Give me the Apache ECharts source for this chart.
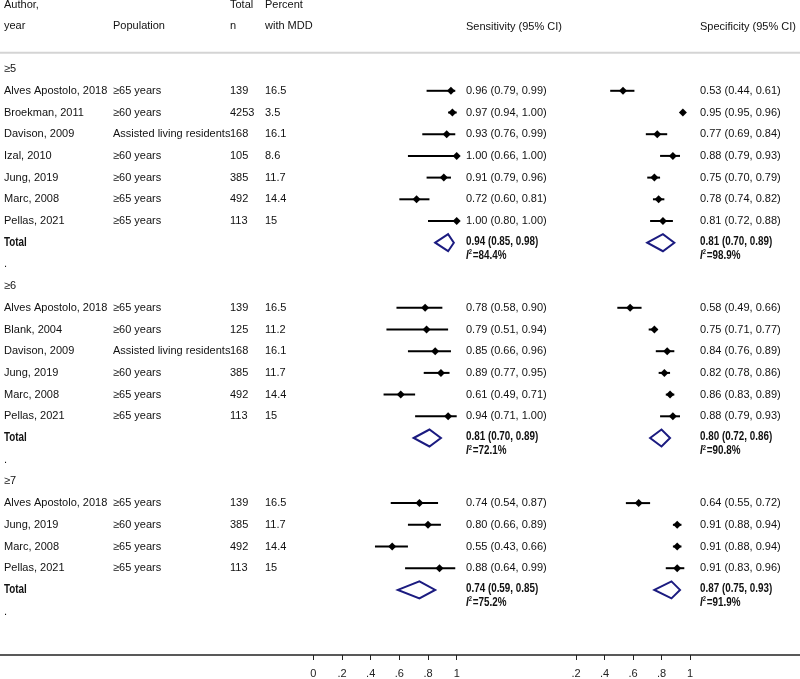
<!DOCTYPE html>
<html>
<head>
<meta charset="utf-8">
<script src="https://cdn.jsdelivr.net/npm/echarts@6/dist/echarts.min.js"></script>
<style>html,body{margin:0;padding:0;background:#fff}#c{width:800px;height:679px}</style>
</head>
<body>
<div id="c"></div>
<script>
// ---------- DATA ----------
const groupLabels = ['≥5', '≥6', '≥7'];
const studyGroup = [0,0,0,0,0,0,0, 1,1,1,1,1,1, 2,2,2,2];
const studyAuthor = [
  'Alves Apostolo, 2018','Broekman, 2011','Davison, 2009','Izal, 2010','Jung, 2019','Marc, 2008','Pellas, 2021',
  'Alves Apostolo, 2018','Blank, 2004','Davison, 2009','Jung, 2019','Marc, 2008','Pellas, 2021',
  'Alves Apostolo, 2018','Jung, 2019','Marc, 2008','Pellas, 2021'];
const studyPopulation = [
  '≥65 years','≥60 years','Assisted living residents','≥60 years','≥60 years','≥65 years','≥65 years',
  '≥65 years','≥60 years','Assisted living residents','≥60 years','≥65 years','≥65 years',
  '≥65 years','≥60 years','≥65 years','≥65 years'];
const studyTotalN = [139,4253,168,105,385,492,113, 139,125,168,385,492,113, 139,385,492,113];
const studyPctMDD = ['16.5','3.5','16.1','8.6','11.7','14.4','15', '16.5','11.2','16.1','11.7','14.4','15', '16.5','11.7','14.4','15'];
const sensEst  = [0.96,0.97,0.93,1.00,0.91,0.72,1.00, 0.78,0.79,0.85,0.89,0.61,0.94, 0.74,0.80,0.55,0.88];
const sensLow  = [0.79,0.94,0.76,0.66,0.79,0.60,0.80, 0.58,0.51,0.66,0.77,0.49,0.71, 0.54,0.66,0.43,0.64];
const sensHigh = [0.99,1.00,0.99,1.00,0.96,0.81,1.00, 0.90,0.94,0.96,0.95,0.71,1.00, 0.87,0.89,0.66,0.99];
const specEst  = [0.53,0.95,0.77,0.88,0.75,0.78,0.81, 0.58,0.75,0.84,0.82,0.86,0.88, 0.64,0.91,0.91,0.91];
const specLow  = [0.44,0.95,0.69,0.79,0.70,0.74,0.72, 0.49,0.71,0.76,0.78,0.83,0.79, 0.55,0.88,0.88,0.83];
const specHigh = [0.61,0.96,0.84,0.93,0.79,0.82,0.88, 0.66,0.77,0.89,0.86,0.89,0.93, 0.72,0.94,0.94,0.96];
const totalSensEst  = [0.94,0.81,0.74];
const totalSensLow  = [0.85,0.70,0.59];
const totalSensHigh = [0.98,0.89,0.85];
const totalSensI2   = ['84.4','72.1','75.2'];
const totalSpecEst  = [0.81,0.80,0.87];
const totalSpecLow  = [0.70,0.72,0.75];
const totalSpecHigh = [0.89,0.86,0.93];
const totalSpecI2   = ['98.9','90.8','91.9'];
const sensTickLabels = ['0','.2','.4','.6','.8','1'];
const specTickLabels = ['.2','.4','.6','.8','1'];

// ---------- LAYOUT (pixel columns of the table) ----------
const COL = {author: 4, pop: 113, n: 230, pct: 265, sensText: 466, specText: 700};
const FONT = '"Liberation Sans", Arial, sans-serif';
const NARROW = 0.82;

const f2 = v => v.toFixed(2);
const ci = (e, l, h) => f2(e) + ' (' + f2(l) + ', ' + f2(h) + ')';

// build rows
const texts = [];
const sensRows = [], specRows = [], sensTot = [], specTot = [];
texts.push({x: COL.author, row: -2.95, text: 'Author,'});
texts.push({x: COL.n, row: -2.95, text: 'Total'});
texts.push({x: COL.pct, row: -2.95, text: 'Percent'});
texts.push({x: COL.author, row: -1.98, text: 'year'});
texts.push({x: COL.pop, row: -1.98, text: 'Population'});
texts.push({x: COL.n, row: -1.98, text: 'n'});
texts.push({x: COL.pct, row: -1.98, text: 'with MDD'});
texts.push({x: COL.sensText, row: -1.96, text: 'Sensitivity (95% CI)'});
texts.push({x: COL.specText, row: -1.96, text: 'Specificity (95% CI)'});

let r = 0;
groupLabels.forEach((g, gi) => {
  texts.push({x: COL.author, row: r, text: g});
  r++;
  studyGroup.forEach((sg, i) => {
    if (sg !== gi) return;
    texts.push({x: COL.author, row: r, text: studyAuthor[i]});
    texts.push({x: COL.pop, row: r, text: studyPopulation[i]});
    texts.push({x: COL.n, row: r, text: String(studyTotalN[i])});
    texts.push({x: COL.pct, row: r, text: studyPctMDD[i]});
    texts.push({x: COL.sensText, row: r, text: ci(sensEst[i], sensLow[i], sensHigh[i])});
    texts.push({x: COL.specText, row: r, text: ci(specEst[i], specLow[i], specHigh[i])});
    sensRows.push([sensEst[i], sensLow[i], sensHigh[i], r]);
    specRows.push([specEst[i], specLow[i], specHigh[i], r]);
    r++;
  });
  texts.push({x: COL.author, row: r, text: 'Total', bold: true});
  texts.push({x: COL.sensText, row: r - 0.05, text: ci(totalSensEst[gi], totalSensLow[gi], totalSensHigh[gi]), bold: true});
  texts.push({x: COL.specText, row: r - 0.05, text: ci(totalSpecEst[gi], totalSpecLow[gi], totalSpecHigh[gi]), bold: true});
  texts.push({x: COL.sensText, row: r + 0.58, rich: '{i|I}{s|2}{b|=' + totalSensI2[gi] + '%}'});
  texts.push({x: COL.specText, row: r + 0.58, rich: '{i|I}{s|2}{b|=' + totalSpecI2[gi] + '%}'});
  sensTot.push([totalSensEst[gi], totalSensLow[gi], totalSensHigh[gi], r]);
  specTot.push([totalSpecEst[gi], totalSpecLow[gi], totalSpecHigh[gi], r]);
  r++;
  texts.push({x: COL.author, row: r, text: '.'});
  r++;
});

const YMIN = -3, YMAX = 27;
const gridBase = {top: 4, bottom: 24};

function renderText(params, api) {
  const t = texts[params.dataIndex];
  const p = api.coord([api.value(0), api.value(1)]);
  const style = {x: 0, y: 0, fill: '#111', align: 'left', verticalAlign: 'middle'};
  let sx = 1;
  if (t.rich) {
    sx = NARROW;
    style.text = t.rich;
    style.rich = {
      i: {fontStyle: 'italic', fontWeight: 'bold', fontSize: 12, fontFamily: FONT, fill: '#111', lineHeight: 14},
      s: {fontWeight: 'bold', fontSize: 7, fontFamily: FONT, fill: '#111', lineHeight: 14, padding: [0, 1, 6, 0]},
      b: {fontWeight: 'bold', fontSize: 12, fontFamily: FONT, fill: '#111', lineHeight: 14}
    };
  } else {
    style.text = t.text;
    style.fontFamily = FONT;
    style.fontWeight = t.bold ? 'bold' : 'normal';
    style.fontSize = t.bold ? 12 : 11;
    if (t.bold) sx = NARROW;
  }
  return {type: 'text', x: p[0], y: p[1], scaleX: sx, scaleY: 1, style: style};
}
function renderCI(params, api) {
  const y = api.value(3);
  const pE = api.coord([api.value(0), y]);
  const pL = api.coord([api.value(1), y]);
  const pH = api.coord([api.value(2), y]);
  const s = 4;
  return {type: 'group', children: [
    {type: 'line', shape: {x1: pL[0], y1: pL[1], x2: pH[0], y2: pH[1]}, style: {stroke: '#000', lineWidth: 2}},
    {type: 'polygon', shape: {points: [[pE[0]-s, pE[1]], [pE[0], pE[1]-s], [pE[0]+s, pE[1]], [pE[0], pE[1]+s]]}, style: {fill: '#000'}}
  ]};
}
function renderDiamond(params, api) {
  const y = api.value(3);
  const pE = api.coord([api.value(0), y]);
  const pL = api.coord([api.value(1), y]);
  const pH = api.coord([api.value(2), y]);
  const h = 8.5;
  return {type: 'polygon', shape: {points: [[pL[0], pL[1]], [pE[0], pE[1]-h], [pH[0], pH[1]], [pE[0], pE[1]+h]]},
    style: {fill: 'none', stroke: '#1b1b80', lineWidth: 2}};
}
function renderSep(params, api) {
  const a = api.coord([0, -0.75]);
  const b = api.coord([800, -0.75]);
  return {type: 'line', shape: {x1: a[0], y1: a[1], x2: b[0], y2: b[1]}, style: {stroke: '#d4d4d4', lineWidth: 2}};
}

const yAxisBase = {type: 'value', min: YMIN, max: YMAX, inverse: true, show: false};
const tickAxis = (idx, min, labels) => ({
  type: 'value', gridIndex: idx, min: min, max: 1, interval: 0.2, position: 'bottom',
  axisLine: {show: false, onZero: false}, splitLine: {show: false},
  axisTick: {show: true, length: 5, lineStyle: {color: '#222', width: 1}},
  axisLabel: {show: true, margin: 13, color: '#222', fontSize: 11, fontFamily: FONT,
    formatter: v => labels[Math.round((v - min) / 0.2)]}
});

const chart = echarts.init(document.getElementById('c'), null, {renderer: 'canvas'});
chart.setOption({
  animation: false,
  backgroundColor: '#fff',
  grid: [
    Object.assign({left: 0, right: 0}, gridBase),
    Object.assign({left: 313.3, width: 143.4}, gridBase),
    Object.assign({left: 576, width: 114}, gridBase)
  ],
  xAxis: [
    {type: 'value', gridIndex: 0, min: 0, max: 800, position: 'bottom',
     axisLine: {show: true, onZero: false, lineStyle: {color: '#222', width: 1.5}},
     axisTick: {show: false}, axisLabel: {show: false}, splitLine: {show: false}},
    tickAxis(1, 0, sensTickLabels),
    tickAxis(2, 0.2, specTickLabels)
  ],
  yAxis: [
    Object.assign({gridIndex: 0}, yAxisBase),
    Object.assign({gridIndex: 1}, yAxisBase),
    Object.assign({gridIndex: 2}, yAxisBase)
  ],
  series: [
    {type: 'custom', xAxisIndex: 0, yAxisIndex: 0, renderItem: renderSep, data: [[0, -0.75]], clip: false, silent: true},
    {type: 'custom', xAxisIndex: 0, yAxisIndex: 0, renderItem: renderText, clip: false, silent: true,
     data: texts.map(t => [t.x, t.row])},
    {type: 'custom', xAxisIndex: 1, yAxisIndex: 1, renderItem: renderCI, clip: false, encode: {x: [0,1,2], y: 3}, data: sensRows},
    {type: 'custom', xAxisIndex: 2, yAxisIndex: 2, renderItem: renderCI, clip: false, encode: {x: [0,1,2], y: 3}, data: specRows},
    {type: 'custom', xAxisIndex: 1, yAxisIndex: 1, renderItem: renderDiamond, clip: false, encode: {x: [0,1,2], y: 3}, data: sensTot},
    {type: 'custom', xAxisIndex: 2, yAxisIndex: 2, renderItem: renderDiamond, clip: false, encode: {x: [0,1,2], y: 3}, data: specTot}
  ]
});
</script>
</body>
</html>
